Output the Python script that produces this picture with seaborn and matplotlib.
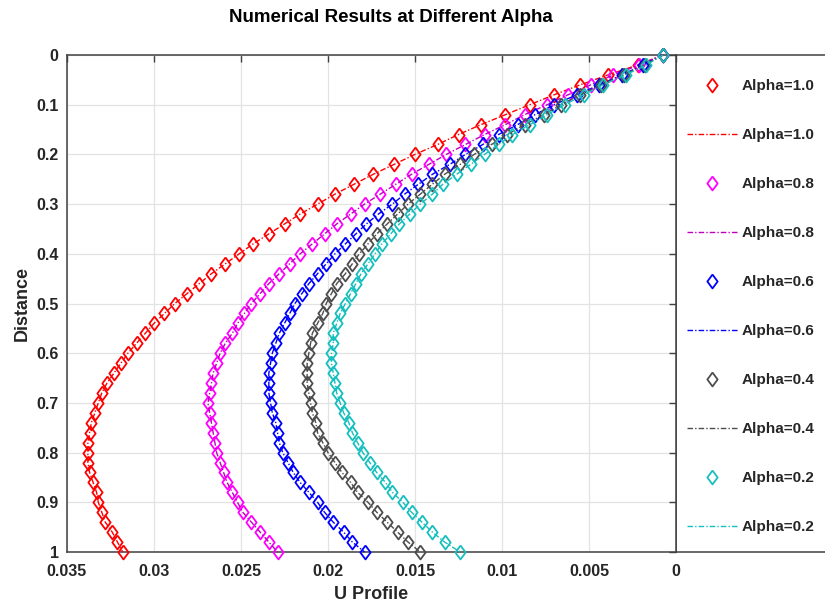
import matplotlib
matplotlib.use("Agg")
import matplotlib.pyplot as plt
import pandas as pd
import seaborn as sns
from matplotlib.patches import Rectangle

# Distance from the wall (sampling grid of the solution)
distance = [0.00, 0.02, 0.04, 0.06, 0.08, 0.10, 0.12, 0.14, 0.16, 0.18,
            0.20, 0.22, 0.24, 0.26, 0.28, 0.30, 0.32, 0.34, 0.36, 0.38,
            0.40, 0.42, 0.44, 0.46, 0.48, 0.50, 0.52, 0.54, 0.56, 0.58,
            0.60, 0.62, 0.64, 0.66, 0.68, 0.70, 0.72, 0.74, 0.76, 0.78,
            0.80, 0.82, 0.84, 0.86, 0.88, 0.90, 0.92, 0.94, 0.96, 0.98, 1.00]

u_alpha_10 = [0.00075, 0.0022, 0.0039, 0.0055, 0.0070, 0.0084, 0.0098, 0.0112, 0.0125, 0.0137,
              0.0150, 0.0162, 0.0174, 0.0185, 0.0196, 0.0206, 0.0216, 0.0225, 0.0234, 0.0243,
              0.0251, 0.0259, 0.0267, 0.0274, 0.0281, 0.0288, 0.0294, 0.0300, 0.0305, 0.0310,
              0.0315, 0.0319, 0.0323, 0.0327, 0.0330, 0.0332, 0.0334, 0.0336, 0.0337, 0.0338,
              0.0338, 0.0338, 0.0337, 0.0335, 0.0333, 0.0332, 0.0330, 0.0328, 0.0324, 0.0321, 0.0318]

u_alpha_08 = [0.00075, 0.0021, 0.0036, 0.0049, 0.0062, 0.0074, 0.0087, 0.0098, 0.0110, 0.0121,
              0.0132, 0.0142, 0.0152, 0.0161, 0.0170, 0.0179, 0.0187, 0.0195, 0.0202, 0.0209,
              0.0216, 0.0222, 0.0228, 0.0234, 0.0239, 0.0244, 0.0248, 0.0252, 0.0255, 0.0259,
              0.0262, 0.0264, 0.0266, 0.0267, 0.0268, 0.0269, 0.0268, 0.0267, 0.0266, 0.0265,
              0.0264, 0.0262, 0.0260, 0.0258, 0.0255, 0.0252, 0.0249, 0.0244, 0.0239, 0.0234, 0.0229]

u_alpha_06 = [0.00075, 0.0019, 0.0031, 0.0044, 0.0057, 0.0070, 0.0081, 0.0091, 0.0102, 0.0111,
              0.0121, 0.0130, 0.0140, 0.0148, 0.0156, 0.0163, 0.0171, 0.0178, 0.0184, 0.0190,
              0.0196, 0.0201, 0.0206, 0.0211, 0.0215, 0.0219, 0.0222, 0.0225, 0.0228, 0.0230,
              0.0232, 0.0233, 0.0234, 0.0234, 0.0234, 0.0233, 0.0232, 0.0230, 0.0229, 0.0228,
              0.0226, 0.0223, 0.0220, 0.0216, 0.0211, 0.0206, 0.0202, 0.0197, 0.0191, 0.0186, 0.0179]

u_alpha_04 = [0.00075, 0.0018, 0.0030, 0.0043, 0.0055, 0.0066, 0.0076, 0.0087, 0.0097, 0.0106,
              0.0116, 0.0124, 0.0133, 0.0140, 0.0147, 0.0154, 0.0160, 0.0166, 0.0172, 0.0177,
              0.0182, 0.0186, 0.0190, 0.0195, 0.0198, 0.0201, 0.0203, 0.0206, 0.0209, 0.0210,
              0.0211, 0.0212, 0.0212, 0.0212, 0.0211, 0.0210, 0.0209, 0.0207, 0.0206, 0.0203,
              0.0200, 0.0196, 0.0192, 0.0187, 0.0183, 0.0177, 0.0172, 0.0166, 0.0160, 0.0154, 0.0147]

u_alpha_02 = [0.00075, 0.0017, 0.0029, 0.0042, 0.0053, 0.0064, 0.0074, 0.0084, 0.0094, 0.0102,
              0.0110, 0.0118, 0.0126, 0.0134, 0.0140, 0.0147, 0.0153, 0.0159, 0.0164, 0.0169,
              0.0173, 0.0177, 0.0181, 0.0184, 0.0187, 0.0190, 0.0193, 0.0195, 0.0197, 0.0197,
              0.0198, 0.0198, 0.0197, 0.0196, 0.0195, 0.0193, 0.0191, 0.0188, 0.0186, 0.0183,
              0.0180, 0.0176, 0.0172, 0.0167, 0.0163, 0.0157, 0.0152, 0.0146, 0.0140, 0.0133, 0.0124]

alpha_labels = ["Alpha=1.0", "Alpha=0.8", "Alpha=0.6", "Alpha=0.4", "Alpha=0.2"]
x_ticks = [0, 0.005, 0.01, 0.015, 0.02, 0.025, 0.03, 0.035]
x_tick_labels = ["0", "0.005", "0.01", "0.015", "0.02", "0.025", "0.03", "0.035"]
y_ticks = [0, 0.1, 0.2, 0.3, 0.4, 0.5, 0.6, 0.7, 0.8, 0.9, 1.0]
y_tick_labels = ["0", "0.1", "0.2", "0.3", "0.4", "0.5", "0.6", "0.7", "0.8", "0.9", "1"]

profiles = [u_alpha_10, u_alpha_08, u_alpha_06, u_alpha_04, u_alpha_02]
frames = []
for lab, u in zip(alpha_labels, profiles):
    frames.append(pd.DataFrame({"U": u, "Distance": distance, "Alpha": lab}))
df = pd.concat(frames, ignore_index=True)

marker_colors = ["#ff0000", "#ff00ff", "#0000ff", "#4d4d4d", "#17bebe"]
line_colors = ["#ff0000", "#bf00bf", "#0000ff", "#4d4d4d", "#17bebe"]

sns.set_style("white")
plt.rcParams["font.family"] = ["Liberation Sans", "DejaVu Sans"]
plt.rcParams["font.weight"] = "bold"

W, H = 825, 605
fig = plt.figure(figsize=(W / 100, H / 100), dpi=100)
ax_l, ax_r, ax_t, ax_b = 67, 676, 55, 552
ax = fig.add_axes([ax_l / W, 1 - ax_b / H, (ax_r - ax_l) / W, (ax_b - ax_t) / H])

diamond = [(0, 1), (0.74, 0), (0, -1), (-0.74, 0), (0, 1)]
dashdot = (0, (4, 1.5, 1, 1.5))

for lab, mc, lc in zip(alpha_labels, marker_colors, line_colors):
    sub = df[df["Alpha"] == lab]
    sns.lineplot(data=sub, x="U", y="Distance", sort=False, estimator=None,
                 ax=ax, marker=diamond, markersize=10, markerfacecolor="none",
                 markeredgecolor=mc, markeredgewidth=1.3, linestyle="none",
                 color=mc, label=lab, clip_on=False, zorder=3)
    sns.lineplot(data=sub, x="U", y="Distance", sort=False, estimator=None,
                 ax=ax, color=lc, linestyle=dashdot, linewidth=1.0, label=lab,
                 clip_on=False, zorder=3)

ax.set_xlim(0.035, 0)
ax.set_ylim(1, 0)
ax.set_xticks(x_ticks)
ax.set_xticklabels(x_tick_labels)
ax.set_yticks(y_ticks)
ax.set_yticklabels(y_tick_labels)
ax.grid(True, color="#e3e3e3", linewidth=0.9)
ax.set_axisbelow(True)
ax.tick_params(direction="in", top=True, right=True, length=5, width=1,
               color="#404040", labelsize=11.5, labelcolor="#262626")
ax.tick_params(axis="x", pad=9)
ax.tick_params(axis="y", pad=6)
for lbl in ax.get_xticklabels() + ax.get_yticklabels():
    lbl.set_fontweight("bold")
for sp in ax.spines.values():
    sp.set_color("#404040")
    sp.set_linewidth(1.1)

ax.set_xlabel("U Profile", fontsize=13, fontweight="bold", color="#262626", labelpad=5)
ax.set_ylabel("Distance", fontsize=13, fontweight="bold", color="#262626", labelpad=4)
fig.text(391 / W, 1 - 18 / H, "Numerical Results at Different Alpha",
         ha="center", va="center", fontsize=13.5, fontweight="bold", color="black")

# Legend panel to the right of the axes
panel = Rectangle((ax_r / W, 1 - ax_b / H), (W + 5 - ax_r) / W, (ax_b - ax_t) / H,
                  transform=fig.transFigure, facecolor="white",
                  edgecolor="#404040", linewidth=1.1, zorder=-1)
fig.add_artist(panel)
handles, labels = ax.get_legend_handles_labels()
leg = fig.legend(handles, labels, loc="upper left", bbox_to_anchor=(ax_r / W, 1 - 68 / H),
                 bbox_transform=fig.transFigure, frameon=False, borderaxespad=0,
                 borderpad=0.72, handlelength=3.33, handletextpad=0.26, labelspacing=2.29,
                 prop={"weight": "bold", "size": 11})
leg.set_zorder(5)
if ax.get_legend() is not None:
    ax.get_legend().remove()

fig.savefig("out.png", dpi=100)
